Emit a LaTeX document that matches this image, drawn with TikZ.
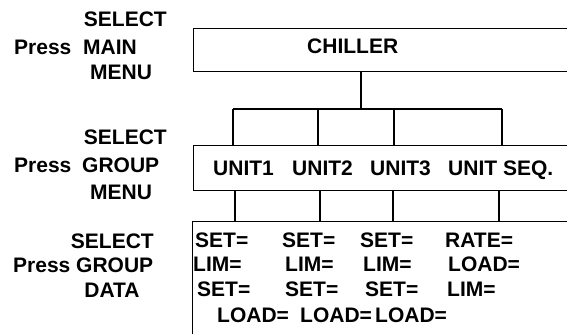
\documentclass[tikz,border=0pt]{standalone}
\usepackage{fontspec}
\setmainfont{Liberation Sans}
\usetikzlibrary{positioning}

\begin{document}
\begin{tikzpicture}[x=1pt,y=-1pt]
			\tikzset{
				menubox/.style={draw, line width=1.3pt, rectangle, inner sep=0, anchor=north west},
				keytext/.style={inner sep=0, text depth=0pt, font=\fontsize{21}{23}\selectfont\bfseries},
				wire/.style={line width=1.1pt},
			}
			\clip (0,0) rectangle (567,333);
			% boxes, running off the right edge
			\node[menubox, minimum width=420, minimum height=43] (main) at (193,28) {};
			\node[menubox, minimum width=420, minimum height=45] (group) at (193,145) {};
			\node[menubox, minimum width=420, minimum height=150] (data) at (192,221) {};
			\node[keytext, anchor=west] (chiller) at (307,46.5) {CHILLER};
			% tree from main menu to the groups
			\coordinate (bus) at (361,109);
			\coordinate (u1) at (233,109);
			\coordinate (u2) at (318,109);
			\coordinate (u3) at (394,109);
			\coordinate (u4) at (502,109);
			\draw[wire] (main.south -| bus) -- (bus);
			\draw[wire] (u1) -- (u4);
			\foreach \u in {1,...,4}
				{
					\draw[wire] (u\u) -- (u\u |- group.north);
				}
			% groups to data
			\coordinate (d1) at (235,0);
			\coordinate (d2) at (320,0);
			\coordinate (d3) at (393,0);
			\coordinate (d4) at (499,0);
			\foreach \d in {1,...,4}
				{
					\draw[wire] (group.south -| d\d) -- (data.north -| d\d);
				}
			% group names
			\node[keytext, anchor=west] (unit1) at (213,168) {UNIT1};
			\node[keytext, anchor=west] (unit2) at (292,168) {UNIT2};
			\node[keytext, anchor=west] (unit3) at (370,168) {UNIT3};
			\node[keytext, anchor=west] (unitseq) at (448,168) {UNIT SEQ.};
			% data rows
			\foreach \x/\y/\t [count=\i] in {
					195/240/SET=, 282/240/SET=, 360/240/SET=, 445/240/RATE=,
					193/264/LIM=, 285/264/LIM=, 363/264/LIM=, 448/264/LOAD=,
					197/289/SET=, 285/289/SET=, 365/289/SET=, 447/289/LIM=,
					217/315/LOAD=, 300/315/LOAD=, 375/315/LOAD=}
				{
					\node[keytext, anchor=west] (val\i) at (\x,\y) {\t};
				}
			% key presses on the left
			\node[keytext, anchor=east] (sel1) at (167,19.5) {SELECT};
			\node[keytext, anchor=west] (press1) at (14,47) {Press};
			\node[keytext, anchor=west] (mainkey) at (83,47) {MAIN};
			\node[keytext, anchor=west] (menu1) at (90,72) {MENU};
			\node[keytext, anchor=east] (sel2) at (167,137.5) {SELECT};
			\node[keytext, anchor=west] (press2) at (14,165) {Press};
			\node[keytext, anchor=west] (groupkey) at (82,165) {GROUP};
			\node[keytext, anchor=west] (menu2) at (90,192) {MENU};
			\node[keytext, anchor=east] (sel3) at (154,241) {SELECT};
			\node[keytext, anchor=west] (press3) at (13,265) {Press GROUP};
			\node[keytext] (datakey) at (112,290) {DATA};
		\end{tikzpicture}
\end{document}
